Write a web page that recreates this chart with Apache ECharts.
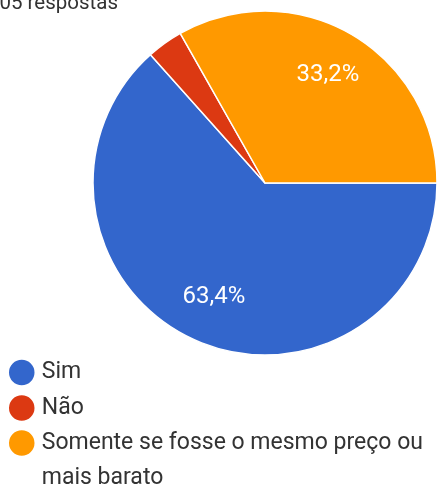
<!DOCTYPE html>
<html>
<head>
<meta charset="utf-8">
<script src="https://cdn.jsdelivr.net/npm/echarts@6/dist/echarts.min.js"></script>
<style>
  html, body { margin: 0; padding: 0; background: #fff; }
  #chart { width: 438px; height: 488px; }
</style>
</head>
<body>
<div id="chart"></div>
<script>
// Survey answers and their shares (percent)
const categories = ['Sim', 'Não', 'Somente se fosse o mesmo preço ou mais barato'];
const shares = [63.4, 3.4, 33.2];
const colors = ['#3366cc', '#dc3912', '#ff9900'];
const showLabel = [true, false, true];
const headerText = '05 respostas';

const FONT = 'Roboto, "Noto Sans", Arial, sans-serif';

function pct(v) {
  return v.toFixed(1).replace('.', ',') + '%';
}

const pieData = categories.map((name, i) => ({
  name,
  value: shares[i],
  itemStyle: { color: colors[i] }
}));

const labelData = categories.map((name, i) => ({
  name,
  value: shares[i],
  label: { show: showLabel[i] }
}));

// One legend per entry; the wrapped entry gets an empty leading line so
// its marker stays level with the first line of text
const legendCenters = [372.5, 408, 443];
const legends = categories.map((name, i) => {
  const wrapped = i === categories.length - 1;
  return {
    data: [name],
    orient: 'vertical',
    left: 7,
    top: legendCenters[i] - (wrapped ? 52.5 : 17.5),
    padding: 0,
    icon: 'circle',
    itemWidth: 30,
    itemHeight: 27.5,
    selectedMode: false,
    formatter: wrapped ? (n => '\n' + n) : '{name}',
    textStyle: {
      fontFamily: FONT,
      fontSize: 23,
      color: '#333',
      lineHeight: 35,
      width: 400,
      overflow: 'break'
    }
  };
});

const chart = echarts.init(document.getElementById('chart'), null, { renderer: 'canvas' });
chart.setOption({
  backgroundColor: '#fff',
  animation: false,
  legend: legends,
  graphic: [{
    type: 'text',
    x: 118,
    y: 3.5,
    style: {
      text: headerText,
      align: 'right',
      verticalAlign: 'middle',
      font: '20.5px ' + FONT,
      fill: '#333'
    }
  }],
  series: [
    {
      type: 'pie',
      center: [265, 183],
      radius: [0, 172],
      startAngle: 0,
      clockwise: true,
      silent: true,
      label: { show: false },
      labelLine: { show: false },
      itemStyle: { borderColor: '#fff', borderWidth: 1.5 },
      data: pieData
    },
    {
      // transparent ring used only to place the percentage labels
      type: 'pie',
      center: [265, 183],
      radius: [72, 172],
      startAngle: 0,
      clockwise: true,
      silent: true,
      itemStyle: { color: 'transparent' },
      labelLine: { show: false },
      label: {
        position: 'inside',
        color: '#fff',
        fontFamily: FONT,
        fontSize: 24,
        formatter: p => pct(p.value)
      },
      data: labelData
    }
  ]
});
</script>
</body>
</html>
